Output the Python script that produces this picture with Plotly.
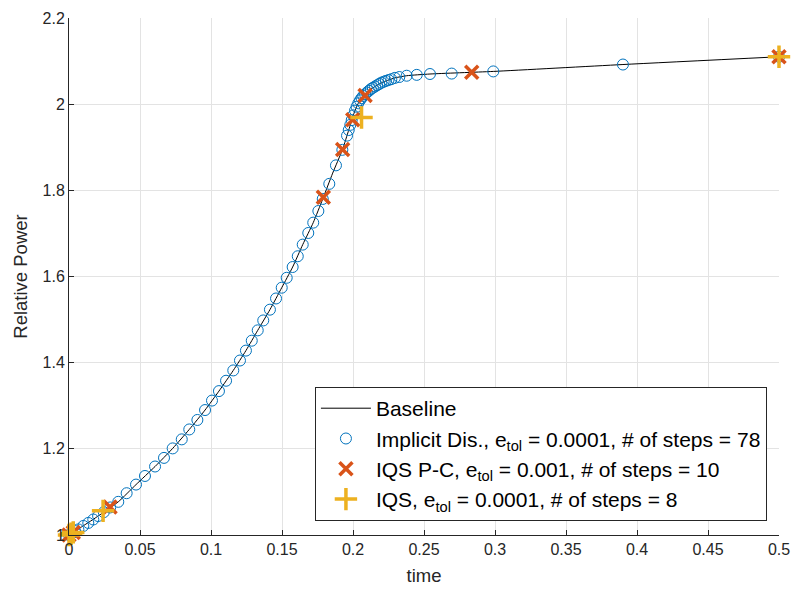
import plotly.graph_objects as go

# Reference (baseline) solution
baseline_t = [0.0, 0.0043, 0.0099, 0.0169, 0.0245, 0.0347, 0.0472, 0.0606, 0.0730,
              0.0847, 0.0958, 0.1056, 0.1157, 0.1246, 0.1329, 0.1415, 0.1498, 0.1575,
              0.1646, 0.1720, 0.1787, 0.1857, 0.1925, 0.1970, 0.2002, 0.2025, 0.2049,
              0.2072, 0.2098, 0.2126, 0.2155, 0.2185, 0.2216, 0.2250, 0.2295, 0.2378,
              0.2542, 0.2988, 0.3901, 0.5]
baseline_p = [1.000, 1.009, 1.021, 1.036, 1.053, 1.077, 1.117, 1.159, 1.201,
              1.245, 1.290, 1.334, 1.382, 1.428, 1.475, 1.523, 1.574, 1.622,
              1.674, 1.725, 1.780, 1.840, 1.894, 1.940, 1.974, 1.994, 2.009,
              2.019, 2.027, 2.035, 2.041, 2.047, 2.052, 2.056, 2.061, 2.066,
              2.070, 2.076, 2.092, 2.110]

# Implicit discretisation, adaptive steps
implicit_t = [0.0, 0.001, 0.0025, 0.0043, 0.0066, 0.0101, 0.0136, 0.0171, 0.0205, 0.0245,
              0.029, 0.0347, 0.0406, 0.0472, 0.0535, 0.0606, 0.0669, 0.0730, 0.0794, 0.0847,
              0.0904, 0.0958, 0.1007, 0.1056, 0.1106, 0.1157, 0.1204, 0.1246, 0.1287, 0.1329,
              0.1368, 0.1415, 0.1458, 0.1498, 0.1533, 0.1575, 0.1611, 0.1646, 0.1685, 0.1720,
              0.1756, 0.1787, 0.1833, 0.1880, 0.1925, 0.1958, 0.1970, 0.1981, 0.1991, 0.2002,
              0.2014, 0.2025, 0.2037, 0.2049, 0.2060, 0.2072, 0.2085, 0.2098, 0.2112, 0.2126,
              0.2140, 0.2155, 0.2170, 0.2185, 0.2200, 0.2216, 0.2232, 0.2250, 0.2270, 0.2295,
              0.2326, 0.2378, 0.2449, 0.2542, 0.2695, 0.2988, 0.3901, 0.5]
implicit_p = [1.000, 1.002, 1.005, 1.009, 1.013, 1.021, 1.028, 1.036, 1.044, 1.053,
              1.064, 1.077, 1.097, 1.117, 1.137, 1.159, 1.179, 1.201, 1.222, 1.245,
              1.267, 1.290, 1.312, 1.334, 1.358, 1.382, 1.405, 1.428, 1.451, 1.475,
              1.498, 1.523, 1.549, 1.574, 1.597, 1.622, 1.647, 1.674, 1.701, 1.725,
              1.752, 1.780, 1.815, 1.858, 1.894, 1.927, 1.940, 1.952, 1.963, 1.974,
              1.985, 1.994, 2.002, 2.009, 2.014, 2.019, 2.023, 2.027, 2.031, 2.035,
              2.038, 2.041, 2.044, 2.047, 2.050, 2.052, 2.054, 2.056, 2.058, 2.061,
              2.063, 2.066, 2.068, 2.070, 2.071, 2.076, 2.092, 2.110]

# IQS predictor-corrector
iqs_pc_t = [0.0, 0.003, 0.0289, 0.1791, 0.1927, 0.1998, 0.2085, 0.2836, 0.5]
iqs_pc_p = [1.000, 1.006, 1.065, 1.784, 1.895, 1.964, 2.020, 2.074, 2.110]

# IQS
iqs_t = [0.0, 0.0015, 0.003, 0.024, 0.206, 0.5]
iqs_p = [1.000, 1.003, 1.006, 1.056, 1.969, 2.110]

label_base = "Baseline"
label_impl = "Implicit Dis., e<sub>tol</sub> = 0.0001, # of steps = 78"
label_pc = "IQS P-C, e<sub>tol</sub> = 0.001, # of steps = 10"
label_iqs = "IQS, e<sub>tol</sub> = 0.0001, # of steps = 8"

FONT = "Liberation Sans, Arial, sans-serif"
INK = "#262626"

fig = go.Figure()
fig.add_trace(go.Scatter(x=baseline_t, y=baseline_p, mode="lines", name=label_base,
                         line=dict(color="#000000", width=1, shape="spline", smoothing=0.6),
                         cliponaxis=False))
fig.add_trace(go.Scatter(x=implicit_t, y=implicit_p, mode="markers", name=label_impl,
                         marker=dict(symbol="circle-open", size=11, color="#0072BD",
                                     line=dict(width=1)),
                         cliponaxis=False))
fig.add_trace(go.Scatter(x=iqs_pc_t, y=iqs_pc_p, mode="markers", name=label_pc,
                         marker=dict(symbol="x-thin-open", size=13, color="#D95319",
                                     line=dict(width=3.5, color="#D95319")),
                         cliponaxis=False))
fig.add_trace(go.Scatter(x=iqs_t, y=iqs_p, mode="markers", name=label_iqs,
                         marker=dict(symbol="cross-thin-open", size=16, color="#EDB120",
                                     line=dict(width=3.5, color="#EDB120")),
                         cliponaxis=False))

axis_common = dict(
    showgrid=True, gridcolor="#e3e3e3", gridwidth=1,
    showline=True, linecolor=INK, linewidth=1,
    ticks="inside", ticklen=5, tickcolor=INK,
    tickfont=dict(family=FONT, size=16, color=INK),
    zeroline=False, mirror=False, automargin=False,
)

fig.update_layout(
    width=795, height=595,
    margin=dict(l=69, r=16, t=18, b=60),
    paper_bgcolor="white", plot_bgcolor="white",
    font=dict(family=FONT, color=INK),
    xaxis=dict(range=[0, 0.5], tickvals=[0, 0.05, 0.1, 0.15, 0.2, 0.25, 0.3, 0.35, 0.4, 0.45, 0.5],
               ticktext=["0", "0.05", "0.1", "0.15", "0.2", "0.25", "0.3", "0.35", "0.4", "0.45", "0.5"],
               title=dict(text="time", font=dict(size=18.5, color=INK), standoff=11),
               **axis_common),
    yaxis=dict(range=[1, 2.2], tickvals=[1, 1.2, 1.4, 1.6, 1.8, 2, 2.2],
               ticktext=["1", "1.2", "1.4", "1.6", "1.8", "2", "2.2"],
               title=dict(text="Relative Power", font=dict(size=18.5, color=INK), standoff=10),
               **axis_common),
    legend=dict(x=0.983, y=0.027, xanchor="right", yanchor="bottom",
                bgcolor="white", bordercolor=INK, borderwidth=1,
                font=dict(family=FONT, size=21, color="#000000"),
                itemwidth=50, tracegroupgap=0),
    showlegend=True,
)

fig.write_html("out.html")
